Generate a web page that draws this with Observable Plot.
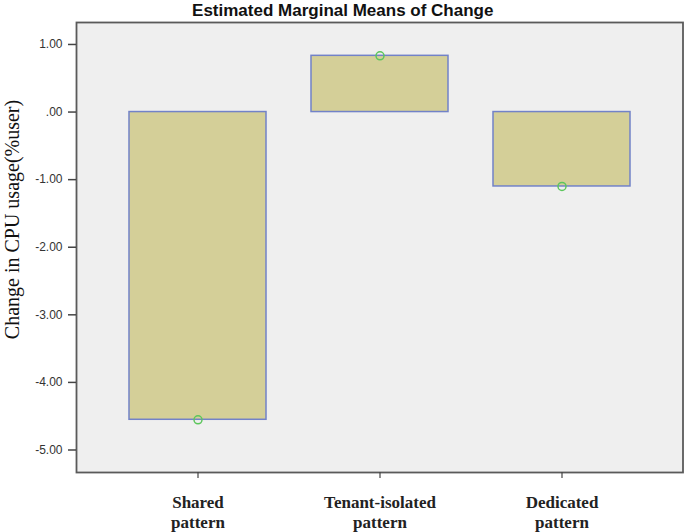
<!DOCTYPE html>
<html>
<head>
<meta charset="utf-8">
<script src="https://cdn.jsdelivr.net/npm/d3@7"></script>
<script src="https://cdn.jsdelivr.net/npm/@observablehq/plot@0.6"></script>
<style>
  html, body { margin: 0; padding: 0; background: #ffffff; }
  #chart svg { display: block; background: #ffffff; }
</style>
</head>
<body>
<div id="chart"></div>
<script>
const categories = ["Shared\npattern", "Tenant-isolated\npattern", "Dedicated\npattern"];
const means = [-4.553, 0.832, -1.101];
const yTicks = [1, 0, -1, -2, -3, -4, -5];
const title = "Estimated Marginal Means of Change";
const yLabel = "Change in CPU usage(%user)";

const data = categories.map((c, i) => ({cat: c, mean: means[i]}));

const fmt = d => {
  const s = Math.abs(d).toFixed(2);
  const t = s.startsWith("0") ? s.slice(1) : s;
  return (d < 0 ? "-" : "") + t;
};

const chart = Plot.plot({
  width: 685,
  height: 532,
  marginLeft: 76,
  marginRight: 2.5,
  marginTop: 22,
  marginBottom: 60,
  style: {background: "#ffffff"},
  x: {domain: categories, paddingInner: 0.25, paddingOuter: 0.29, label: null},
  y: {domain: [-5.333, 1.325], label: null},
  marks: [
    Plot.frame({fill: "#efefef", stroke: "#5a5a5a", strokeWidth: 1.8}),
    Plot.barY(data, {x: "cat", y1: 0, y2: "mean", fill: "#d4cf98", stroke: "#7282c8", strokeWidth: 1.5}),
    Plot.dot(data, {x: "cat", y: "mean", r: 4, stroke: "#5cc65c", strokeWidth: 1.5, fill: "none"}),
    Plot.axisY({ticks: yTicks, tickFormat: fmt, tickSize: 8, tickPadding: 6, fontSize: 12,
      fontFamily: "Liberation Sans", fill: "#333", stroke: "#444", strokeWidth: 1.5, label: null}),
    Plot.axisX({tickSize: 6, tickPadding: 15, fontSize: 17, fontFamily: "Liberation Serif",
      fontWeight: "bold", lineHeight: 1.18, fill: "#222", stroke: "#444", strokeWidth: 1.2, label: null,
      tickFormat: d => d}),
    Plot.text([yLabel], {text: d => d, frameAnchor: "left", rotate: -90, dx: -64, dy: -28,
      lineAnchor: "middle", textAnchor: "middle", fontSize: 20, fontFamily: "Liberation Serif", fill: "#111"}),
    Plot.text([title], {text: d => d, frameAnchor: "top", dx: -37, dy: -7, lineAnchor: "bottom",
      textAnchor: "middle", fontSize: 17, fontWeight: "bold", fontFamily: "Liberation Sans", fill: "#111"})
  ]
});
document.getElementById("chart").appendChild(chart);
</script>
</body>
</html>
